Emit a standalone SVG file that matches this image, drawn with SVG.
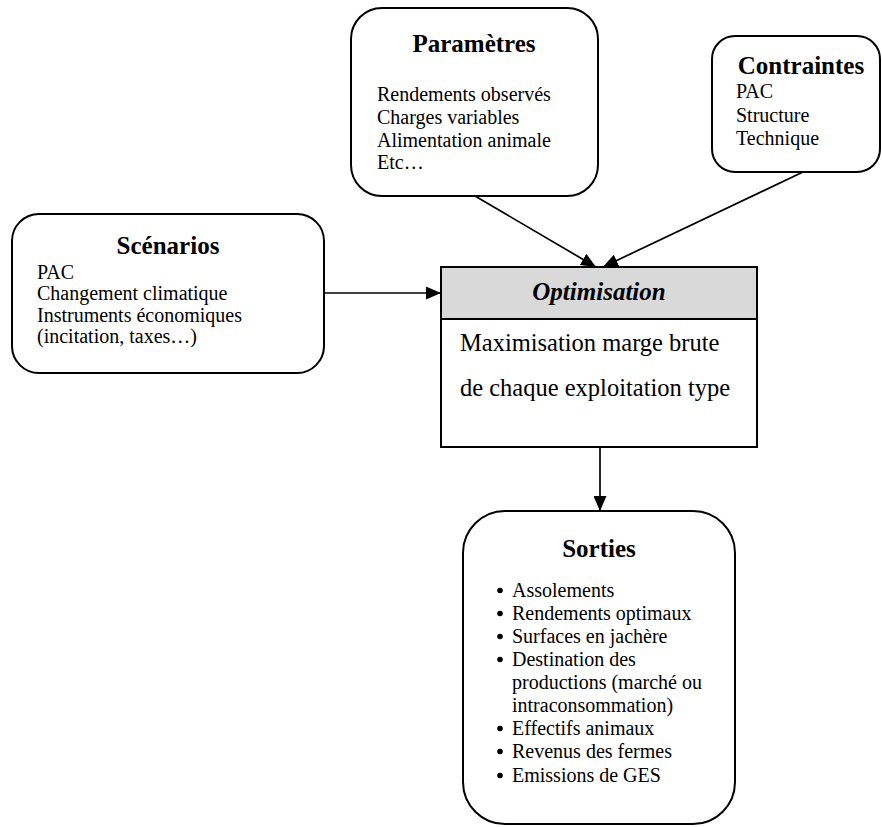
<svg xmlns="http://www.w3.org/2000/svg" width="882" height="827" viewBox="0 0 882 827">
<style>
.box{fill:#ffffff;stroke:#000000;stroke-width:2}
.t{font-family:"Liberation Serif","Times New Roman",serif;fill:#000000}
.title{font-size:25px;font-weight:bold;text-anchor:middle}
.body{font-size:20px}
.big{font-size:24.5px}
.conn{stroke:#000000;stroke-width:1.7;fill:none;marker-end:url(#arr)}
.bul{fill:#000000}
</style>
<defs>
<marker id="arr" markerUnits="userSpaceOnUse" markerWidth="15" markerHeight="13" refX="15" refY="6.5" orient="auto" viewBox="0 0 15 13">
<path d="M0,0 L15,6.5 L0,13 z" fill="#000000"/>
</marker>
</defs>
<rect width="882" height="827" fill="#ffffff"/>
<g id="connectors">
<line class="conn" x1="475" y1="196" x2="596" y2="267"/>
<line class="conn" x1="803" y1="172" x2="603" y2="267"/>
<line class="conn" x1="324" y1="293" x2="441" y2="293"/>
<line class="conn" x1="600" y1="447" x2="600" y2="511"/>
</g>
<g id="parametres">
<rect class="box" x="351" y="8" width="247" height="188" rx="31" ry="31"/>
<text class="t title" x="474" y="52">Paramètres</text>
<text class="t body" x="377" y="101">Rendements observés</text>
<text class="t body" x="377" y="124">Charges variables</text>
<text class="t body" x="377" y="147">Alimentation animale</text>
<text class="t body" x="377" y="169">Etc…</text>
</g>
<g id="contraintes">
<rect class="box" x="712" y="36" width="168" height="136" rx="23" ry="23"/>
<text class="t title" x="801" y="74">Contraintes</text>
<text class="t body" x="736" y="98">PAC</text>
<text class="t body" x="736" y="122">Structure</text>
<text class="t body" x="736" y="145">Technique</text>
</g>
<g id="scenarios">
<rect class="box" x="12" y="214" width="312" height="159" rx="27" ry="27"/>
<text class="t title" x="168" y="254">Scénarios</text>
<text class="t body" x="37" y="279">PAC</text>
<text class="t body" x="37" y="300">Changement climatique</text>
<text class="t body" x="37" y="322">Instruments économiques</text>
<text class="t body" x="37" y="343">(incitation, taxes…)</text>
</g>
<g id="optimisation">
<rect class="box" x="441" y="267" width="316" height="180"/>
<rect x="441" y="267" width="316" height="52" fill="#d9d9d9" stroke="#000000" stroke-width="2"/>
<text class="t title" x="599" y="300" font-style="italic">Optimisation</text>
<text class="t big" x="460" y="351">Maximisation marge brute</text>
<text class="t big" x="460" y="396">de chaque exploitation type</text>
</g>
<g id="sorties">
<rect class="box" x="463" y="511" width="272" height="313" rx="42" ry="42"/>
<text class="t title" x="599" y="557">Sorties</text>
<circle class="bul" cx="500" cy="590.5" r="2.8"/>
<circle class="bul" cx="500" cy="613.5" r="2.8"/>
<circle class="bul" cx="500" cy="636.5" r="2.8"/>
<circle class="bul" cx="500" cy="659.5" r="2.8"/>
<circle class="bul" cx="500" cy="728.5" r="2.8"/>
<circle class="bul" cx="500" cy="751.5" r="2.8"/>
<circle class="bul" cx="500" cy="775.5" r="2.8"/>
<g class="t body">
<text x="512" y="597">Assolements</text>
<text x="512" y="620">Rendements optimaux</text>
<text x="512" y="643">Surfaces en jachère</text>
<text x="512" y="666">Destination des</text>
<text x="512" y="689">productions (marché ou</text>
<text x="512" y="712">intraconsommation)</text>
<text x="512" y="735">Effectifs animaux</text>
<text x="512" y="758">Revenus des fermes</text>
<text x="512" y="782">Emissions de GES</text>
</g>
</g>
</svg>
